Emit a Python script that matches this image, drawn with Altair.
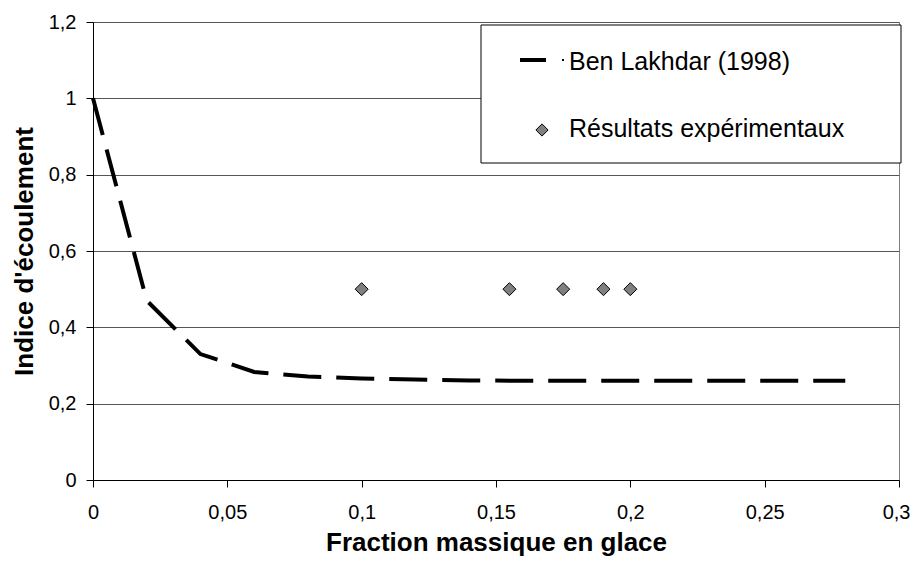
import altair as alt
import pandas as pd

# ---- data ----
BL_X = [0.00, 0.02, 0.04, 0.06, 0.08, 0.10, 0.12, 0.14, 0.16, 0.18, 0.20, 0.22, 0.24, 0.26, 0.28]
BL_Y = [1.00, 0.47, 0.33, 0.283, 0.271, 0.266, 0.263, 0.261, 0.26, 0.26, 0.26, 0.26, 0.26, 0.26, 0.26]
EXP_X = [0.10, 0.155, 0.175, 0.19, 0.20]
EXP_Y = [0.50, 0.50, 0.50, 0.50, 0.50]
SERIES = ["Ben Lakhdar (1998)", "Résultats expérimentaux"]
X_TICKS = [0, 0.05, 0.1, 0.15, 0.2, 0.25, 0.3]
Y_TICKS = [0, 0.2, 0.4, 0.6, 0.8, 1.0, 1.2]
X_TITLE = "Fraction massique en glace"
Y_TITLE = "Indice d'écoulement"

bl = pd.DataFrame({"x": BL_X, "y": BL_Y, "serie": SERIES[0]})
exp = pd.DataFrame({"x": EXP_X, "y": EXP_Y, "serie": SERIES[1]})
one = pd.DataFrame({"k": [0]})

W, H = 806, 458
FONT = "Liberation Sans"
LABEL_EXPR = "replace(format(datum.value, '~g'), '.', ',')"

x_enc = alt.X(
    "x:Q",
    scale=alt.Scale(domain=[0, 0.3], nice=False, zero=False),
    axis=alt.Axis(
        values=X_TICKS, labelExpr=LABEL_EXPR, title=X_TITLE, grid=False,
        labelFlush=False, labelPadding=15, titlePadding=7,
        labelAlign=alt.condition("datum.value >= 0.29", alt.value("right"), alt.value("center")),
        labelOffset=alt.condition("datum.value >= 0.29", alt.value(11), alt.value(0)),
    ),
)
y_enc = alt.Y(
    "y:Q",
    scale=alt.Scale(domain=[0, 1.2], nice=False),
    axis=alt.Axis(values=Y_TICKS, labelExpr=LABEL_EXPR, title=Y_TITLE, grid=True,
                  labelPadding=10, titlePadding=11),
)

line = alt.Chart(bl).mark_line(
    color="black", strokeWidth=4, strokeDash=[38, 15], strokeCap="butt", clip=False
).encode(x=x_enc, y=y_enc)

pts = alt.Chart(exp).mark_point(
    shape="diamond", filled=True, color="#808080", stroke="black",
    strokeWidth=1, size=170, opacity=1
).encode(x="x:Q", y="y:Q")

# ---- legend box (drawn by hand, as in the reference) ----
box = alt.Chart(one).mark_rect(fill="white", stroke="black", strokeWidth=1).encode(
    x=alt.value(388), x2=alt.value(808), y=alt.value(3), y2=alt.value(141)
)
leg_line = alt.Chart(one).mark_rule(color="black", strokeWidth=4).encode(
    x=alt.value(427), x2=alt.value(453), y=alt.value(38)
)
leg_dot = alt.Chart(one).mark_rule(color="black", strokeWidth=2).encode(
    x=alt.value(469), x2=alt.value(471), y=alt.value(38)
)
leg_pt = alt.Chart(one).mark_point(
    shape="diamond", filled=True, color="#808080", stroke="black",
    strokeWidth=1, size=150, opacity=1
).encode(x=alt.value(449), y=alt.value(108))
leg_t1 = alt.Chart(one).mark_text(
    align="left", baseline="alphabetic", font=FONT, fontSize=25, color="black"
).encode(x=alt.value(476), y=alt.value(48), text=alt.value(SERIES[0]))
leg_t2 = alt.Chart(one).mark_text(
    align="left", baseline="alphabetic", font=FONT, fontSize=25, color="black"
).encode(x=alt.value(476), y=alt.value(115), text=alt.value(SERIES[1]))

chart = (
    alt.layer(line, pts, box, leg_line, leg_dot, leg_pt, leg_t1, leg_t2)
    .properties(
        width=W, height=H,
        padding={"left": 85, "top": 14, "right": 11, "bottom": 76},
        autosize=alt.AutoSizeParams(type="none"),
        background="white",
    )
    .configure_view(stroke="#808080", strokeWidth=1)
    .configure_axis(
        domainColor="black", domainWidth=1, tickColor="black", tickSize=7, tickWidth=1,
        labelFont=FONT, labelFontSize=20, labelColor="black",
        titleFont=FONT, titleFontSize=26, titleFontWeight="bold", titleColor="black",
        gridColor="#555555", gridWidth=1, gridOpacity=1,
    )
)

chart.save("out.html", embed_options={"renderer": "svg", "actions": False})
